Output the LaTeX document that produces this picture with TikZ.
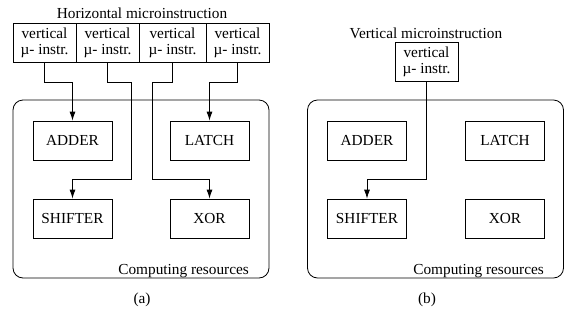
\documentclass[tikz,border=0pt]{standalone}
\usepackage{fontspec}
\setmainfont{Liberation Serif}
\usetikzlibrary{arrows.meta}
\begin{document}
\begin{tikzpicture}[x=1pt,y=-1pt,
  every node/.style={font=\fontsize{15.3}{16}\selectfont, inner sep=0pt},
  ibox/.style={draw, line width=0.8pt, minimum height=39pt, align=center},
  unit/.style={draw, line width=0.8pt, minimum width=79pt, minimum height=39pt},
  container/.style={draw, line width=0.8pt, rounded corners=10pt, minimum width=256pt, minimum height=178pt},
  wire/.style={line width=0.8pt},
  arr/.style={wire, -{Latex[length=9pt,width=6pt]}}]
\useasboundingbox (0,0) rectangle (565,322);
% ---- (a) ----
\node (ta) at (142,13) {Horizontal microinstruction};
\node[ibox, minimum width=63pt] (v1) at (44.5,42.5) {vertical\\µ- instr.};
\node[ibox, minimum width=63pt] (v2) at (107.5,42.5) {vertical\\µ- instr.};
\node[ibox, minimum width=67pt] (v3) at (172.5,42.5) {vertical\\µ- instr.};
\node[ibox, minimum width=63pt] (v4) at (237.5,42.5) {vertical\\µ- instr.};
\node[container] (ca) at (141,189) {};
\node[unit] (adder) at (72.5,140.5) {ADDER};
\node[unit] (latch) at (209.5,140.5) {LATCH};
\node[unit] (shifter) at (72.5,218.5) {SHIFTER};
\node[unit] (xor) at (209.5,218.5) {XOR};
\node[anchor=base east] (cra) at (249,274) {Computing resources};
\coordinate (c2) at (131,179);
\coordinate (c3) at (152,179);
\draw[arr] (v1.south) -- ++(0,20) -| (adder.north);
\draw[arr] (v2.south) -- ++(0,20) -| (c2) -| (shifter.north);
\draw[arr] (v3.south) -- ++(0,20) -| (c3) -| (xor.north);
\draw[arr] (v4.south) -- ++(0,20) -| (latch.north);
\node (la) at (142,300) {(a)};
% ---- (b) ----
\node (tb) at (426,33) {Vertical microinstruction};
\node[ibox, minimum width=63pt] (vb) at (426.5,61.5) {vertical\\µ- instr.};
\node[container] (cb) at (435.5,189) {};
\node[unit] (adderb) at (367,140.5) {ADDER};
\node[unit] (latchb) at (505,140.5) {LATCH};
\node[unit] (shifterb) at (367,218.5) {SHIFTER};
\node[unit] (xorb) at (505,218.5) {XOR};
\node[anchor=base east] (crb) at (544,274) {Computing resources};
\coordinate (cbend) at (426.5,179);
\draw[arr] (vb.south) -- (cbend) -| (shifterb.north);
\node (lb) at (427,300) {(b)};
\end{tikzpicture}
\end{document}
